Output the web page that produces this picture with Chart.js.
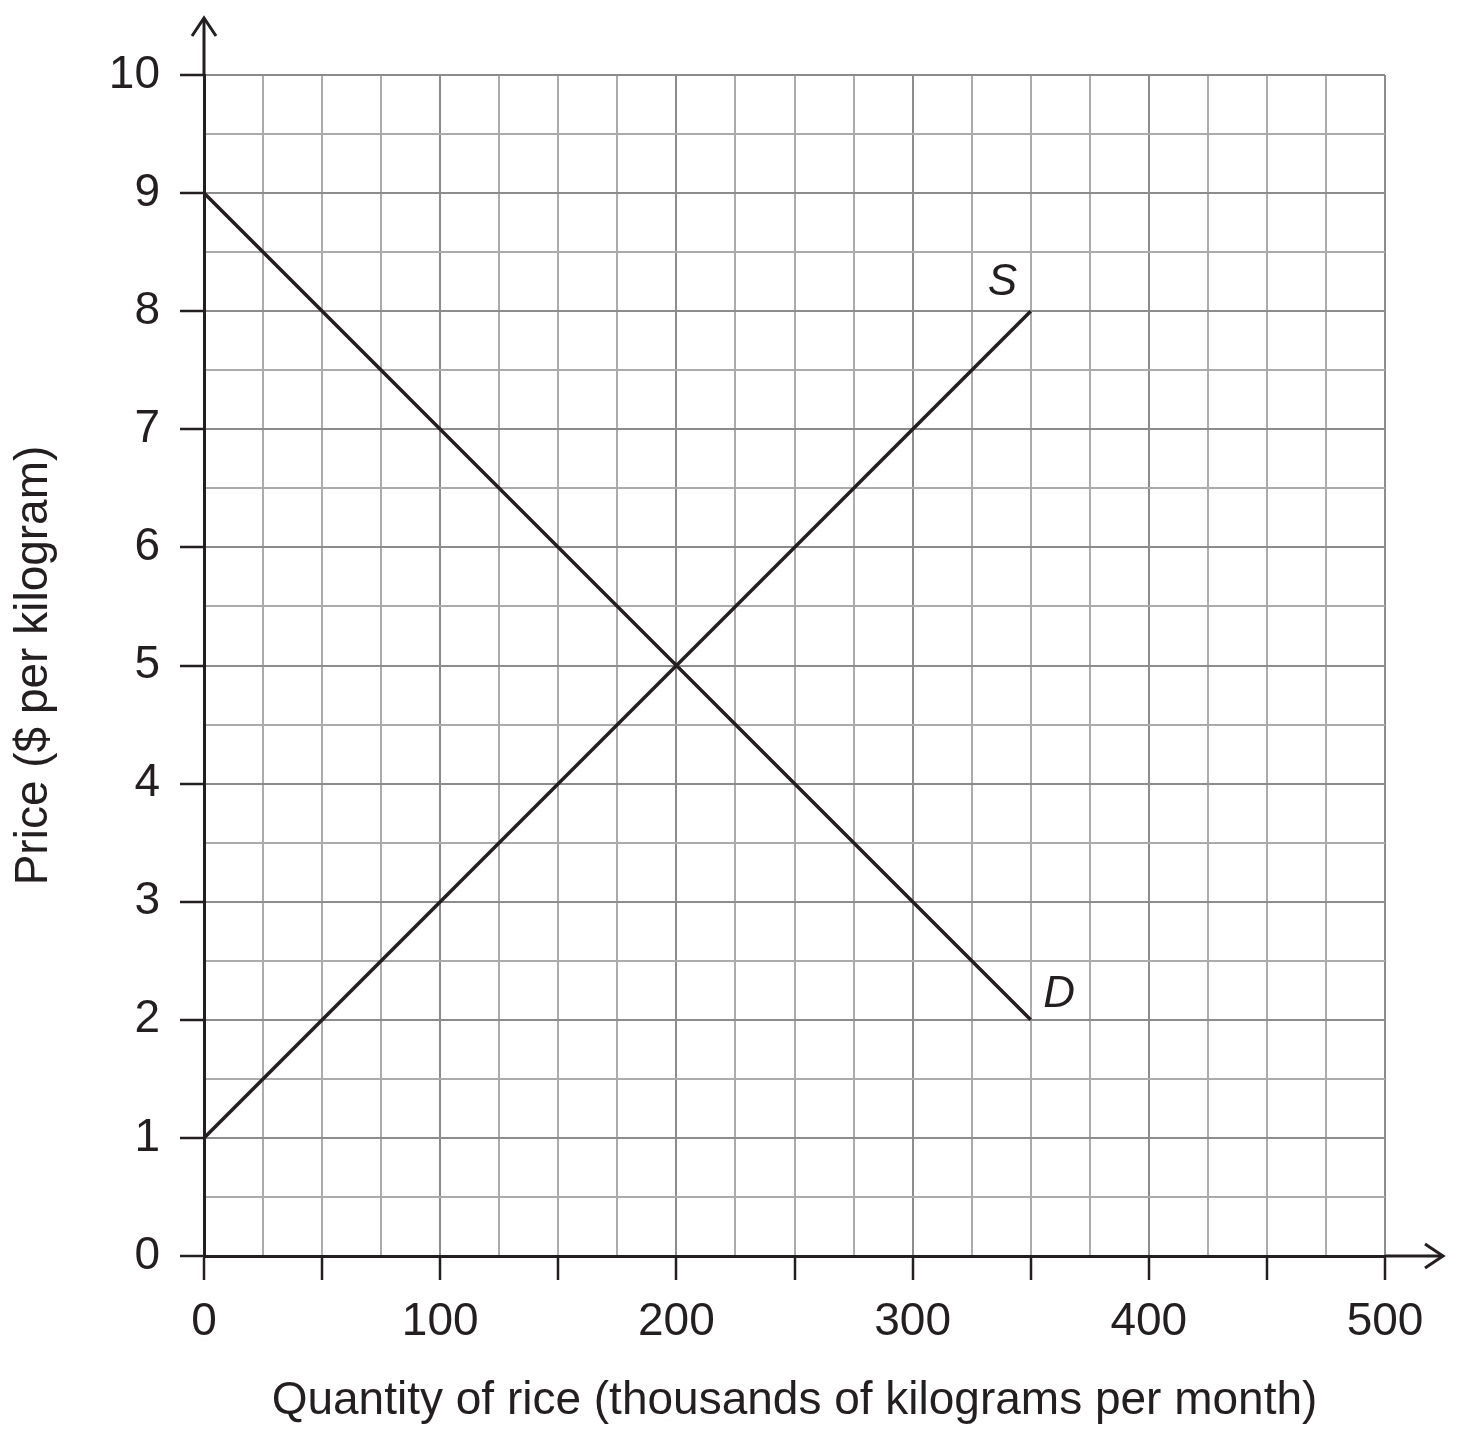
<!DOCTYPE html>
<html>
<head>
<meta charset="utf-8">
<script src="https://cdn.jsdelivr.net/npm/chart.js@4"></script>
<style>
  html, body { margin: 0; padding: 0; background: #fff; }
  #wrap { width: 1457px; height: 1437px; position: relative; }
</style>
</head>
<body>
<div id="wrap"><canvas id="riceChart"></canvas></div>
<script>
// Supply and demand for rice
const supplyQty = [0, 350];
const supplyPrice = [1, 8];
const demandQty = [0, 350];
const demandPrice = [9, 2];

// Curve labels (data coordinates)
const curveLabels = ['S', 'D'];
const curveLabelQty = [338, 362];
const curveLabelPrice = [8.24, 2.21];

const xTitle = 'Quantity of rice (thousands of kilograms per month)';
const yTitle = 'Price ($ per kilogram)';

const ink = '#231f20';
const fontFamily = "'Liberation Sans', Arial, Helvetica, sans-serif";

function toPoints(xs, ys) {
    return xs.map((x, i) => ({ x: x, y: ys[i] }));
}

// Draws axis arrows and curve labels
const decorPlugin = {
    id: 'decor',
    afterDraw(chart) {
        const ctx = chart.ctx;
        const xs = chart.scales.x;
        const ys = chart.scales.y;
        const x0 = xs.getPixelForValue(0);
        const y0 = ys.getPixelForValue(0);
        const yTop = 18;
        const xEnd = 1443;

        ctx.save();
        ctx.strokeStyle = ink;
        ctx.lineWidth = 3;
        ctx.lineCap = 'butt';
        // y axis extension + arrow
        ctx.beginPath();
        ctx.moveTo(x0, ys.top);
        ctx.lineTo(x0, yTop);
        ctx.stroke();
        ctx.beginPath();
        ctx.moveTo(x0 - 12, yTop + 18);
        ctx.lineTo(x0, yTop);
        ctx.lineTo(x0 + 12, yTop + 18);
        ctx.stroke();
        // x axis extension + arrow
        ctx.beginPath();
        ctx.moveTo(xs.right, y0);
        ctx.lineTo(xEnd, y0);
        ctx.stroke();
        ctx.beginPath();
        ctx.moveTo(xEnd - 18, y0 - 12);
        ctx.lineTo(xEnd, y0);
        ctx.lineTo(xEnd - 18, y0 + 12);
        ctx.stroke();

        // curve labels
        ctx.fillStyle = ink;
        ctx.font = 'italic 44px ' + fontFamily;
        ctx.textAlign = 'center';
        ctx.textBaseline = 'middle';
        curveLabels.forEach((txt, i) => {
            ctx.fillText(txt, xs.getPixelForValue(curveLabelQty[i]), ys.getPixelForValue(curveLabelPrice[i]));
        });
        ctx.restore();
    }
};

const ctx = document.getElementById('riceChart').getContext('2d');

new Chart(ctx, {
    type: 'scatter',
    data: {
        datasets: [
            {
                label: 'S',
                data: toPoints(supplyQty, supplyPrice),
                showLine: true,
                borderColor: ink,
                borderWidth: 3.5,
                pointRadius: 0,
                fill: false
            },
            {
                label: 'D',
                data: toPoints(demandQty, demandPrice),
                showLine: true,
                borderColor: ink,
                borderWidth: 3.5,
                pointRadius: 0,
                fill: false
            }
        ]
    },
    options: {
        responsive: true,
        maintainAspectRatio: false,
        animation: false,
        layout: {
            padding: { top: 75, right: 72, bottom: 0, left: 0 }
        },
        plugins: {
            legend: { display: false },
            tooltip: { enabled: false }
        },
        scales: {
            x: {
                type: 'linear',
                min: 0,
                max: 500,
                afterFit: function(scale) { scale.height = 181; },
                ticks: {
                    stepSize: 25,
                    autoSkip: false,
                    maxRotation: 0,
                    padding: 15,
                    color: ink,
                    font: { family: fontFamily, size: 46 },
                    callback: function(value) {
                        return value % 100 === 0 ? String(value) : '';
                    }
                },
                grid: {
                    color: function(c) {
                        return c.tick && c.tick.value % 100 === 0 ? '#8c8c8c' : '#ababab';
                    },
                    lineWidth: 2,
                    drawTicks: true,
                    tickLength: 24,
                    tickWidth: 2.5,
                    tickColor: function(c) {
                        return c.tick && c.tick.value % 50 === 0 ? ink : 'rgba(0,0,0,0)';
                    }
                },
                border: { display: true, color: ink, width: 3 },
                title: {
                    display: true,
                    text: xTitle,
                    color: ink,
                    font: { family: fontFamily, size: 46 },
                    padding: { top: 0, bottom: 8 }
                }
            },
            y: {
                type: 'linear',
                min: 0,
                max: 10,
                afterFit: function(scale) { scale.width = 204; },
                ticks: {
                    stepSize: 0.5,
                    autoSkip: false,
                    padding: 20,
                    color: ink,
                    font: { family: fontFamily, size: 46 },
                    callback: function(value) {
                        return Number.isInteger(value) ? String(value) : '';
                    }
                },
                grid: {
                    color: function(c) {
                        return c.tick && Number.isInteger(c.tick.value) ? '#8c8c8c' : '#ababab';
                    },
                    lineWidth: 2,
                    drawTicks: true,
                    tickLength: 24,
                    tickWidth: 2.5,
                    tickColor: function(c) {
                        return c.tick && Number.isInteger(c.tick.value) ? ink : 'rgba(0,0,0,0)';
                    }
                },
                border: { display: true, color: ink, width: 3 },
                title: {
                    display: true,
                    text: yTitle,
                    color: ink,
                    font: { family: fontFamily, size: 46 },
                    padding: { top: 7, bottom: 0 }
                }
            }
        }
    },
    plugins: [decorPlugin]
});
</script>
</body>
</html>
